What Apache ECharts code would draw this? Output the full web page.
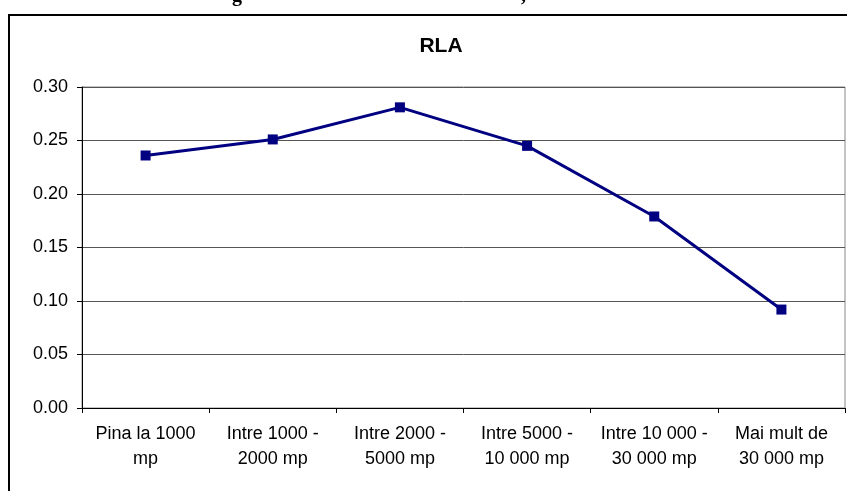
<!DOCTYPE html>
<html>
<head>
<meta charset="utf-8">
<script src="https://cdn.jsdelivr.net/npm/echarts@6/dist/echarts.min.js"></script>
<style>html,body{margin:0;padding:0;background:#fff}#c{width:847px;height:491px}</style>
</head>
<body>
<div id="c"></div>
<script>
var categories = ['Pina la 1000\nmp', 'Intre 1000 -\n2000 mp', 'Intre 2000 -\n5000 mp', 'Intre 5000 -\n10 000 mp', 'Intre 10 000 -\n30 000 mp', 'Mai mult de\n30 000 mp'];
var rlaValues = [0.236, 0.251, 0.281, 0.245, 0.179, 0.092];
var chartTitle = 'RLA';
var yMin = 0, yMax = 0.30, yStep = 0.05;

var chart = echarts.init(document.getElementById('c'), null, {renderer: 'canvas'});
var font = 'Arial, "Liberation Sans", sans-serif';
chart.setOption({
  animation: false,
  backgroundColor: '#fff',
  title: {
    text: chartTitle, left: 436, top: 31, textAlign: 'center',
    textStyle: {fontFamily: font, fontWeight: 'bold', fontSize: 21, color: '#000'}
  },
  graphic: [
    {type: 'rect', shape: {x: 9, y: 15, width: 900, height: 600}, style: {fill: 'none', stroke: '#000', lineWidth: 2}, silent: true},
    {type: 'text', left: 232, top: -14, style: {text: 'g', font: 'bold 20px "Liberation Serif", serif', fill: '#000'}},
    {type: 'text', left: 521, top: -14, style: {text: ',', font: 'bold 20px "Liberation Serif", serif', fill: '#000'}}
  ],
  grid: {left: 82, top: 87, right: 2, bottom: 83, show: true, borderColor: '#888', borderWidth: 1, backgroundColor: 'transparent'},
  xAxis: {
    type: 'category', data: categories, boundaryGap: true,
    axisLine: {lineStyle: {color: '#000', width: 1}},
    axisTick: {show: true, length: 5, inside: false, lineStyle: {color: '#000'}},
    axisLabel: {fontFamily: font, fontSize: 18, color: '#000', margin: 14, lineHeight: 25, interval: 0},
    splitLine: {show: false}
  },
  yAxis: {
    type: 'value', min: yMin, max: yMax, interval: yStep,
    axisLine: {show: true, lineStyle: {color: '#000', width: 1}},
    axisTick: {show: true, length: 5, lineStyle: {color: '#000'}},
    axisLabel: {fontFamily: font, fontSize: 18, color: '#000', margin: 14, formatter: function (v) { return v.toFixed(2); }},
    splitLine: {show: true, lineStyle: {color: '#555', width: 1}}
  },
  series: [{
    type: 'line', data: rlaValues,
    symbol: 'rect', symbolSize: 10,
    lineStyle: {color: '#000080', width: 3},
    itemStyle: {color: '#000080'}
  }]
});
</script>
</body>
</html>
